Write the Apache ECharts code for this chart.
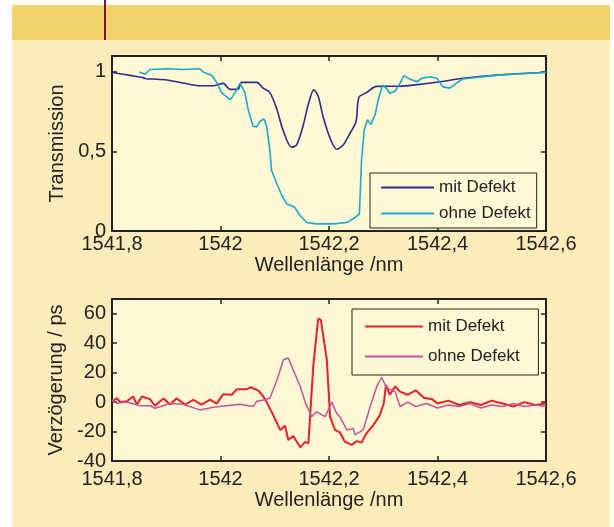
<!DOCTYPE html>
<html>
<head>
<meta charset="utf-8">
<script src="https://cdn.jsdelivr.net/npm/echarts@6/dist/echarts.min.js"></script>
<style>
  body { margin: 0; background: #fff; }
  #page { position: absolute; left: 12px; top: 5px; width: 598px; height: 522px; background: #fdebb9; }
  #band { position: absolute; left: 12px; top: 5px; width: 598px; height: 35px; background: #f2d36b; }
  #mark { position: absolute; left: 104px; top: 0; width: 2px; height: 40px; background: #7d1233; }
  #chart { position: absolute; left: 0; top: 0; width: 614px; height: 527px; }
</style>
</head>
<body>
<div id="page"></div>
<div id="band"></div>
<div id="mark"></div>
<div id="chart"></div>
<script>
// Transmission, mit Defekt
const transWlMit = [1541.800, 1541.820, 1541.839, 1541.857, 1541.864, 1541.876, 1541.901, 1541.931, 1541.962, 1541.986,
  1542.005, 1542.018, 1542.032, 1542.039, 1542.067, 1542.078, 1542.091, 1542.104, 1542.115, 1542.131,
  1542.140, 1542.152, 1542.161, 1542.172, 1542.180, 1542.189, 1542.202, 1542.214, 1542.226, 1542.239,
  1542.250, 1542.255, 1542.269, 1542.288, 1542.331, 1542.355, 1542.405, 1542.447, 1542.510, 1542.600];
const transMit = [0.998, 0.985, 0.975, 0.964, 0.957, 0.955, 0.949, 0.930, 0.913, 0.913,
  0.928, 0.890, 0.890, 0.934, 0.934, 0.900, 0.870, 0.764, 0.637, 0.527,
  0.540, 0.658, 0.785, 0.887, 0.849, 0.720, 0.584, 0.514, 0.540, 0.616,
  0.690, 0.839, 0.870, 0.909, 0.910, 0.917, 0.938, 0.960, 0.980, 0.998];

// Transmission, ohne Defekt
const transWlOhne = [1541.850, 1541.861, 1541.870, 1541.901, 1541.931, 1541.962, 1541.968, 1541.984, 1541.993, 1542.002,
  1542.018, 1542.027, 1542.036, 1542.045, 1542.051, 1542.060, 1542.067, 1542.073, 1542.080, 1542.085,
  1542.091, 1542.094, 1542.104, 1542.113, 1542.122, 1542.131, 1542.137, 1542.147, 1542.159, 1542.177,
  1542.207, 1542.233, 1542.248, 1542.256, 1542.260, 1542.265, 1542.271, 1542.277, 1542.285, 1542.291,
  1542.299, 1542.306, 1542.312, 1542.322, 1542.331, 1542.338, 1542.349, 1542.362, 1542.371, 1542.386,
  1542.399, 1542.410, 1542.423, 1542.435, 1542.446, 1542.510, 1542.600];
const transOhne = [1.000, 0.985, 1.015, 1.020, 1.015, 1.020, 1.000, 0.977, 0.934, 0.870,
  0.824, 0.870, 0.930, 0.870, 0.764, 0.658, 0.654, 0.690, 0.705, 0.658,
  0.510, 0.382, 0.297, 0.223, 0.170, 0.159, 0.148, 0.096, 0.053, 0.045,
  0.045, 0.053, 0.085, 0.106, 0.446, 0.637, 0.700, 0.669, 0.732, 0.828,
  0.917, 0.896, 0.866, 0.880, 0.930, 0.977, 0.955, 0.938, 0.960, 0.970,
  0.960, 0.906, 0.898, 0.930, 0.955, 0.980, 0.998];

// Verzoegerung, mit Defekt
const delayWlMit = [1541.800, 1541.809, 1541.815, 1541.827, 1541.839, 1541.846, 1541.855, 1541.870, 1541.879, 1541.895,
  1541.907, 1541.919, 1541.935, 1541.950, 1541.965, 1541.981, 1541.993, 1542.005, 1542.021, 1542.030,
  1542.048, 1542.056, 1542.070, 1542.079, 1542.085, 1542.097, 1542.110, 1542.119, 1542.125, 1542.134,
  1542.147, 1542.156, 1542.162, 1542.171, 1542.180, 1542.185, 1542.196, 1542.202, 1542.211, 1542.220,
  1542.229, 1542.242, 1542.251, 1542.260, 1542.269, 1542.282, 1542.294, 1542.301, 1542.305, 1542.312,
  1542.322, 1542.331, 1542.345, 1542.360, 1542.375, 1542.390, 1542.400, 1542.420, 1542.440, 1542.460,
  1542.480, 1542.500, 1542.520, 1542.540, 1542.560, 1542.580, 1542.600];
const delayMit = [0.3, 2.6, 0, 0.5, 3.8, -1.7, 3.8, 2, -2.5, 2.5,
  -1.7, 2.5, -1.7, 1.6, -1.7, 1.6, -1, 5.4, 5, 8.8,
  8.8, 10.1, 7.8, 3.8, 0, -8.7, -18.9, -16, -25.7, -23,
  -30.7, -27, -28, 24.4, 56.6, 55.8, 28.7, -9.9, -18.9, -20.5,
  -26.8, -29, -26.5, -27.5, -21.2, -15.5, -8.7, -0.8, 11.7, 4.9,
  10.6, 7.1, 5, 8, 3, 2, -1, 1, -2, 0,
  -2, 1, -1, -3, 0, -2, -1];

// Verzoegerung, ohne Defekt
const delayWlOhne = [1541.800, 1541.809, 1541.827, 1541.852, 1541.870, 1541.879, 1541.907, 1541.931, 1541.962, 1541.987,
  1542.011, 1542.036, 1542.060, 1542.067, 1542.082, 1542.091, 1542.104, 1542.116, 1542.125, 1542.134,
  1542.147, 1542.156, 1542.168, 1542.177, 1542.187, 1542.193, 1542.205, 1542.214, 1542.220, 1542.233,
  1542.245, 1542.248, 1542.263, 1542.276, 1542.288, 1542.297, 1542.306, 1542.322, 1542.331, 1542.345,
  1542.360, 1542.380, 1542.400, 1542.420, 1542.440, 1542.460, 1542.480, 1542.500, 1542.520, 1542.540,
  1542.560, 1542.580, 1542.600];
const delayOhne = [1.5, -0.8, 0, -2.5, -2.5, -4.2, -1, -1.5, -5.3, -3.5,
  -2.5, -1.5, -3, 0.5, 1.6, 2.6, 15, 28.7, 29.9, 21.9,
  10.6, 0, -9.9, -6.5, -8.7, -9.9, 0, -7.6, -9.9, -18.9,
  -18, -22.3, -18.9, -3, 10.6, 16.7, 9.8, 7.1, -3, 0,
  -3, -1, -4, -2, -3, -1, -4, -2, -3, -1,
  -3, -2, -3];

const wlTicks = { min: 1541.8, max: 1542.6, interval: 0.2 };
const transYLabels = [0, 0.5, 1];
const delayYLabels = [-40, -20, 0, 20, 40, 60];

const font = "'Liberation Sans', Arial, sans-serif";
const ink = '#222';

function zip(xs, ys) {
  return xs.map((x, i) => [x, ys[i]]);
}
function comma(v) {
  return String(+(+v).toFixed(2)).replace('.', ',');
}

function frameAxis(extra) {
  return Object.assign({
    type: 'value',
    axisLine: { show: true, onZero: false, lineStyle: { color: ink, width: 2 } },
    axisTick: { show: true, inside: true, length: 5, lineStyle: { color: ink, width: 1.5 } },
    splitLine: { show: false }
  }, extra);
}

function xAxes(gridIndex, labelMargin) {
  const range = { gridIndex: gridIndex, min: wlTicks.min, max: wlTicks.max, interval: wlTicks.interval };
  return [
    frameAxis(Object.assign({}, range, {
      position: 'bottom',
      name: 'Wellenlänge /nm', nameLocation: 'middle', nameGap: labelMargin + 21,
      nameTextStyle: { fontFamily: font, fontSize: 20, color: ink },
      axisLabel: { margin: labelMargin, fontFamily: font, fontSize: 20, color: ink, formatter: comma }
    })),
    frameAxis(Object.assign({}, range, { position: 'top', axisLabel: { show: false } }))
  ];
}

function yAxes(gridIndex, min, max, interval, labels, name) {
  const range = { gridIndex: gridIndex, min: min, max: max, interval: interval };
  return [
    frameAxis(Object.assign({}, range, {
      position: 'left',
      name: name, nameLocation: 'middle', nameGap: 45,
      nameTextStyle: { fontFamily: font, fontSize: 20, color: ink },
      axisLabel: {
        margin: 6, fontFamily: font, fontSize: 20, color: ink,
        formatter: v => labels.indexOf(+(+v).toFixed(2)) >= 0 ? comma(v) : ''
      }
    })),
    frameAxis(Object.assign({}, range, { position: 'right', axisLabel: { show: false } }))
  ];
}

const legendBase = {
  orient: 'vertical',
  itemHeight: 14,
  borderColor: ink, borderWidth: 1, backgroundColor: '#fef8d4',
  itemStyle: { opacity: 0 },
  lineStyle: { width: 2 },
  textStyle: { fontFamily: font, fontSize: 17, color: ink }
};

const chart = echarts.init(document.getElementById('chart'));
chart.setOption({
  animation: false,
  grid: [
    { left: 112, top: 56, width: 434, height: 175, show: true, backgroundColor: '#fef8d4', borderWidth: 0 },
    { left: 112, top: 299, width: 434, height: 162, show: true, backgroundColor: '#fef8d4', borderWidth: 0 }
  ],
  xAxis: xAxes(0, 3).concat(xAxes(1, 8)),
  yAxis: yAxes(0, 0, 1.1, 0.5, transYLabels, 'Transmission')
    .concat(yAxes(1, -40, 70, 20, delayYLabels, 'Verzögerung / ps')),
  legend: [
    Object.assign({}, legendBase, {
      data: ['mit Defekt', 'ohne Defekt'],
      left: 370, top: 173,
      itemWidth: 53, itemGap: 9,
      padding: [6, 6, 6, 10]
    }),
    Object.assign({}, legendBase, {
      data: ['mit Defekt ', 'ohne Defekt '],
      left: 352, top: 309,
      itemWidth: 58, itemGap: 13,
      padding: [9, 14, 10, 12]
    })
  ],
  series: [
    { name: 'mit Defekt', type: 'line', xAxisIndex: 0, yAxisIndex: 0, symbol: 'none', smooth: 0.3,
      color: '#2c2b8c', lineStyle: { width: 1.6 }, data: zip(transWlMit, transMit) },
    { name: 'ohne Defekt', type: 'line', xAxisIndex: 0, yAxisIndex: 0, symbol: 'none',
      color: '#1ea6cf', lineStyle: { width: 1.6 }, data: zip(transWlOhne, transOhne) },
    { name: 'mit Defekt ', type: 'line', xAxisIndex: 2, yAxisIndex: 2, symbol: 'none',
      color: '#e8202c', lineStyle: { width: 2 }, data: zip(delayWlMit, delayMit) },
    { name: 'ohne Defekt ', type: 'line', xAxisIndex: 2, yAxisIndex: 2, symbol: 'none',
      color: '#c2559a', lineStyle: { width: 1.5 }, data: zip(delayWlOhne, delayOhne) }
  ]
});
</script>
</body>
</html>
